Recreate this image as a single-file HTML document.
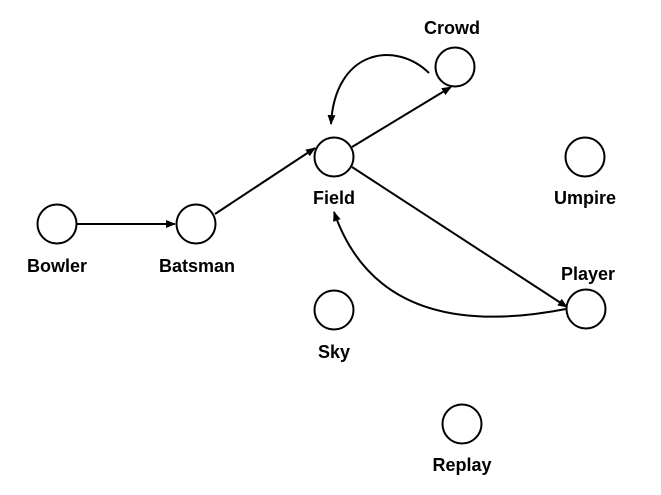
<!DOCTYPE html>
<html><head><style>html,body{margin:0;padding:0;background:#fff;}svg{display:block}</style></head>
<body>
<svg width="661" height="495" viewBox="0 0 661 495" xmlns="http://www.w3.org/2000/svg">
<defs>
<marker id="a" markerWidth="10" markerHeight="8" refX="9" refY="4" orient="auto" markerUnits="userSpaceOnUse">
<path d="M0,0 L10,4 L0,8 Z" fill="#000"/></marker>
</defs>
<g fill="none" stroke="#000" stroke-width="2">
<line x1="77" y1="224" x2="175" y2="224" marker-end="url(#a)"/>
<line x1="215" y1="214" x2="315" y2="148" marker-end="url(#a)"/>
<line x1="352" y1="147" x2="451" y2="87" marker-end="url(#a)"/>
<line x1="352" y1="167" x2="567" y2="307" marker-end="url(#a)"/>
<path d="M429,73 C395,40 335,50 331,124" marker-end="url(#a)"/>
<path d="M566,309 Q380,345 334,212" marker-end="url(#a)"/>
<circle cx="57" cy="224" r="19.5" fill="#fff"/>
<circle cx="196" cy="224" r="19.5" fill="#fff"/>
<circle cx="334" cy="157" r="19.5" fill="#fff"/>
<circle cx="455" cy="67" r="19.5" fill="#fff"/>
<circle cx="585" cy="157" r="19.5" fill="#fff"/>
<circle cx="586" cy="309" r="19.5" fill="#fff"/>
<circle cx="334" cy="310" r="19.5" fill="#fff"/>
<circle cx="462" cy="424" r="19.5" fill="#fff"/>
</g>
<g font-family="Liberation Sans, sans-serif" font-weight="bold" font-size="18" text-anchor="middle" fill="#000">
<text x="57" y="272">Bowler</text>
<text x="197" y="272">Batsman</text>
<text x="334" y="204">Field</text>
<text x="452" y="34">Crowd</text>
<text x="585" y="204">Umpire</text>
<text x="588" y="280">Player</text>
<text x="334" y="358">Sky</text>
<text x="462" y="471">Replay</text>
</g>
</svg>
</body></html>
